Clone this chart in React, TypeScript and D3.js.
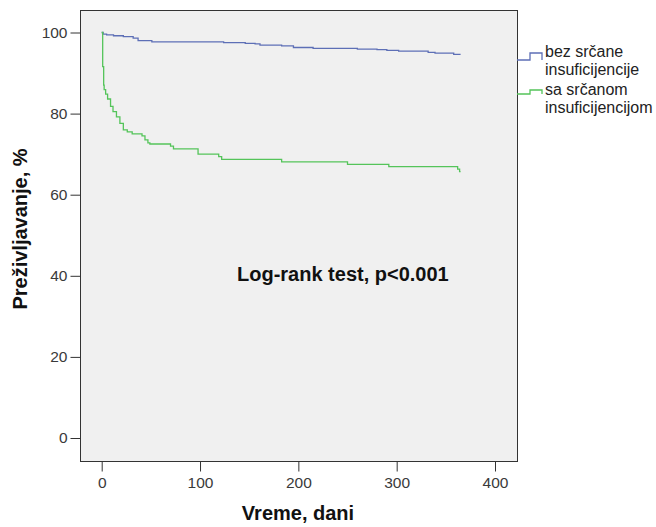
import { useEffect, useRef } from 'react';
import * as d3 from 'd3';

// Kaplan-Meier steps (time in days, survival in %)
const noHfTimes = [0, 1.5, 5, 12, 22, 32, 37, 51, 124, 146, 156, 161, 183, 195, 215, 260, 280, 290, 302, 332, 339, 358, 365];
const noHfSurv = [100, 99.6, 99.4, 99.2, 99.0, 98.6, 98.0, 97.7, 97.5, 97.3, 97.2, 96.9, 96.7, 96.3, 96.1, 95.9, 95.8, 95.6, 95.4, 95.1, 94.9, 94.6, 94.6];

const hfTimes = [0, 1, 2, 2.5, 4, 6, 9, 11.5, 15, 18.5, 22, 26, 31, 41, 44, 47, 49, 70, 73, 98, 119, 122, 183, 250, 292, 362, 364, 365];
const hfSurv = [100, 91.6, 87.0, 85.9, 84.8, 83.6, 81.8, 80.5, 79.2, 77.6, 76.0, 75.5, 75.0, 74.5, 73.5, 72.8, 72.5, 72.0, 71.3, 70.0, 69.4, 68.7, 68.1, 67.5, 66.9, 66.3, 65.7, 65.7];

const xTicks = [0, 100, 200, 300, 400];
const yTicks = [0, 20, 40, 60, 80, 100];

const seriesNames = [['bez srčane', 'insuficijencije'], ['sa srčanom', 'insuficijencijom']];
const seriesColors = ['#5d6fb6', '#54c45a'];

const W = 656;
const H = 527;

const SurvivalChart = () => {
  const svgRef = useRef<SVGSVGElement | null>(null);

  useEffect(() => {
    const svg = d3.select(svgRef.current);
    svg.selectAll('*').remove();

    const frame = { left: 80, right: 517, top: 10, bottom: 461 };

    const x = d3.scaleLinear().domain([0, 400]).range([101.7, 495]);
    const y = d3.scaleLinear().domain([0, 100]).range([438, 32.5]);

    // plot background + frame
    svg.append('rect')
      .attr('x', frame.left + 0.5)
      .attr('y', frame.top + 0.5)
      .attr('width', frame.right - frame.left)
      .attr('height', frame.bottom - frame.top)
      .attr('fill', '#f0f0f0')
      .attr('stroke', '#333')
      .attr('stroke-width', 1);

    // Y axis
    const yAxis = svg.append('g')
      .attr('transform', `translate(${frame.left + 0.5},0)`)
      .call(d3.axisLeft(y).tickValues(yTicks).tickSize(10).tickPadding(3).tickFormat(d3.format('d')));
    yAxis.select('.domain').remove();

    // X axis
    const xAxis = svg.append('g')
      .attr('transform', `translate(0,${frame.bottom + 0.5})`)
      .call(d3.axisBottom(x).tickValues(xTicks).tickSize(10).tickPadding(5).tickFormat(d3.format('d')));
    xAxis.select('.domain').remove();

    svg.selectAll('.tick line').attr('stroke', '#333');
    svg.selectAll('.tick text')
      .style('font-family', 'Arial, "Liberation Sans", sans-serif')
      .style('font-size', '15.5px')
      .attr('fill', '#3a3a3a');

    // curves
    const line = d3.line<[number, number]>()
      .x(d => x(d[0]))
      .y(d => y(d[1]))
      .curve(d3.curveStepAfter);

    const series = [
      d3.zip(noHfTimes, noHfSurv) as [number, number][],
      d3.zip(hfTimes, hfSurv) as [number, number][],
    ];

    svg.selectAll('.km')
      .data(series)
      .enter()
      .append('path')
      .attr('class', 'km')
      .attr('d', d => line(d))
      .attr('fill', 'none')
      .attr('stroke', (_, i) => seriesColors[i])
      .attr('stroke-width', 1.3);

    // legend
    const legendY = [53, 90];
    const legendH = [7, 4];
    seriesNames.forEach((lines, i) => {
      const ly = legendY[i];
      svg.append('path')
        .attr('d', `M${frame.right},${ly + legendH[i]}H530V${ly}H542V${ly + legendH[i]}`)
        .attr('fill', 'none')
        .attr('stroke', seriesColors[i])
        .attr('stroke-width', 1.3);
      lines.forEach((t, j) => {
        svg.append('text')
          .attr('x', 545)
          .attr('y', ly + 4 + j * 17.5 + (i === 0 ? 0 : 1))
          .style('font-family', 'Arial, "Liberation Sans", sans-serif')
          .style('font-size', '16px')
          .attr('fill', '#222')
          .text(t);
      });
    });

    // annotation
    svg.append('text')
      .attr('x', 237)
      .attr('y', 281)
      .style('font-family', 'Arial, "Liberation Sans", sans-serif')
      .style('font-size', '20px')
      .style('font-weight', 'bold')
      .attr('fill', '#111')
      .text('Log-rank test, p<0.001');

    // axis titles
    svg.append('text')
      .attr('x', (frame.left + frame.right) / 2 + 0.5 - 1)
      .attr('y', 520)
      .attr('text-anchor', 'middle')
      .style('font-family', 'Arial, "Liberation Sans", sans-serif')
      .style('font-size', '20px')
      .style('font-weight', 'bold')
      .attr('fill', '#111')
      .text('Vreme, dani');

    svg.append('text')
      .attr('transform', 'translate(27,229) rotate(-90)')
      .attr('text-anchor', 'middle')
      .style('font-family', 'Arial, "Liberation Sans", sans-serif')
      .style('font-size', '20px')
      .style('font-weight', 'bold')
      .attr('fill', '#111')
      .text('Preživljavanje, %');
  }, []);

  return (
    <svg
      ref={svgRef}
      width={W}
      height={H}
      style={{ position: 'absolute', left: 0, top: 0, background: '#fff' }}
    />
  );
};

export default function App() {
  return <SurvivalChart />;
}
